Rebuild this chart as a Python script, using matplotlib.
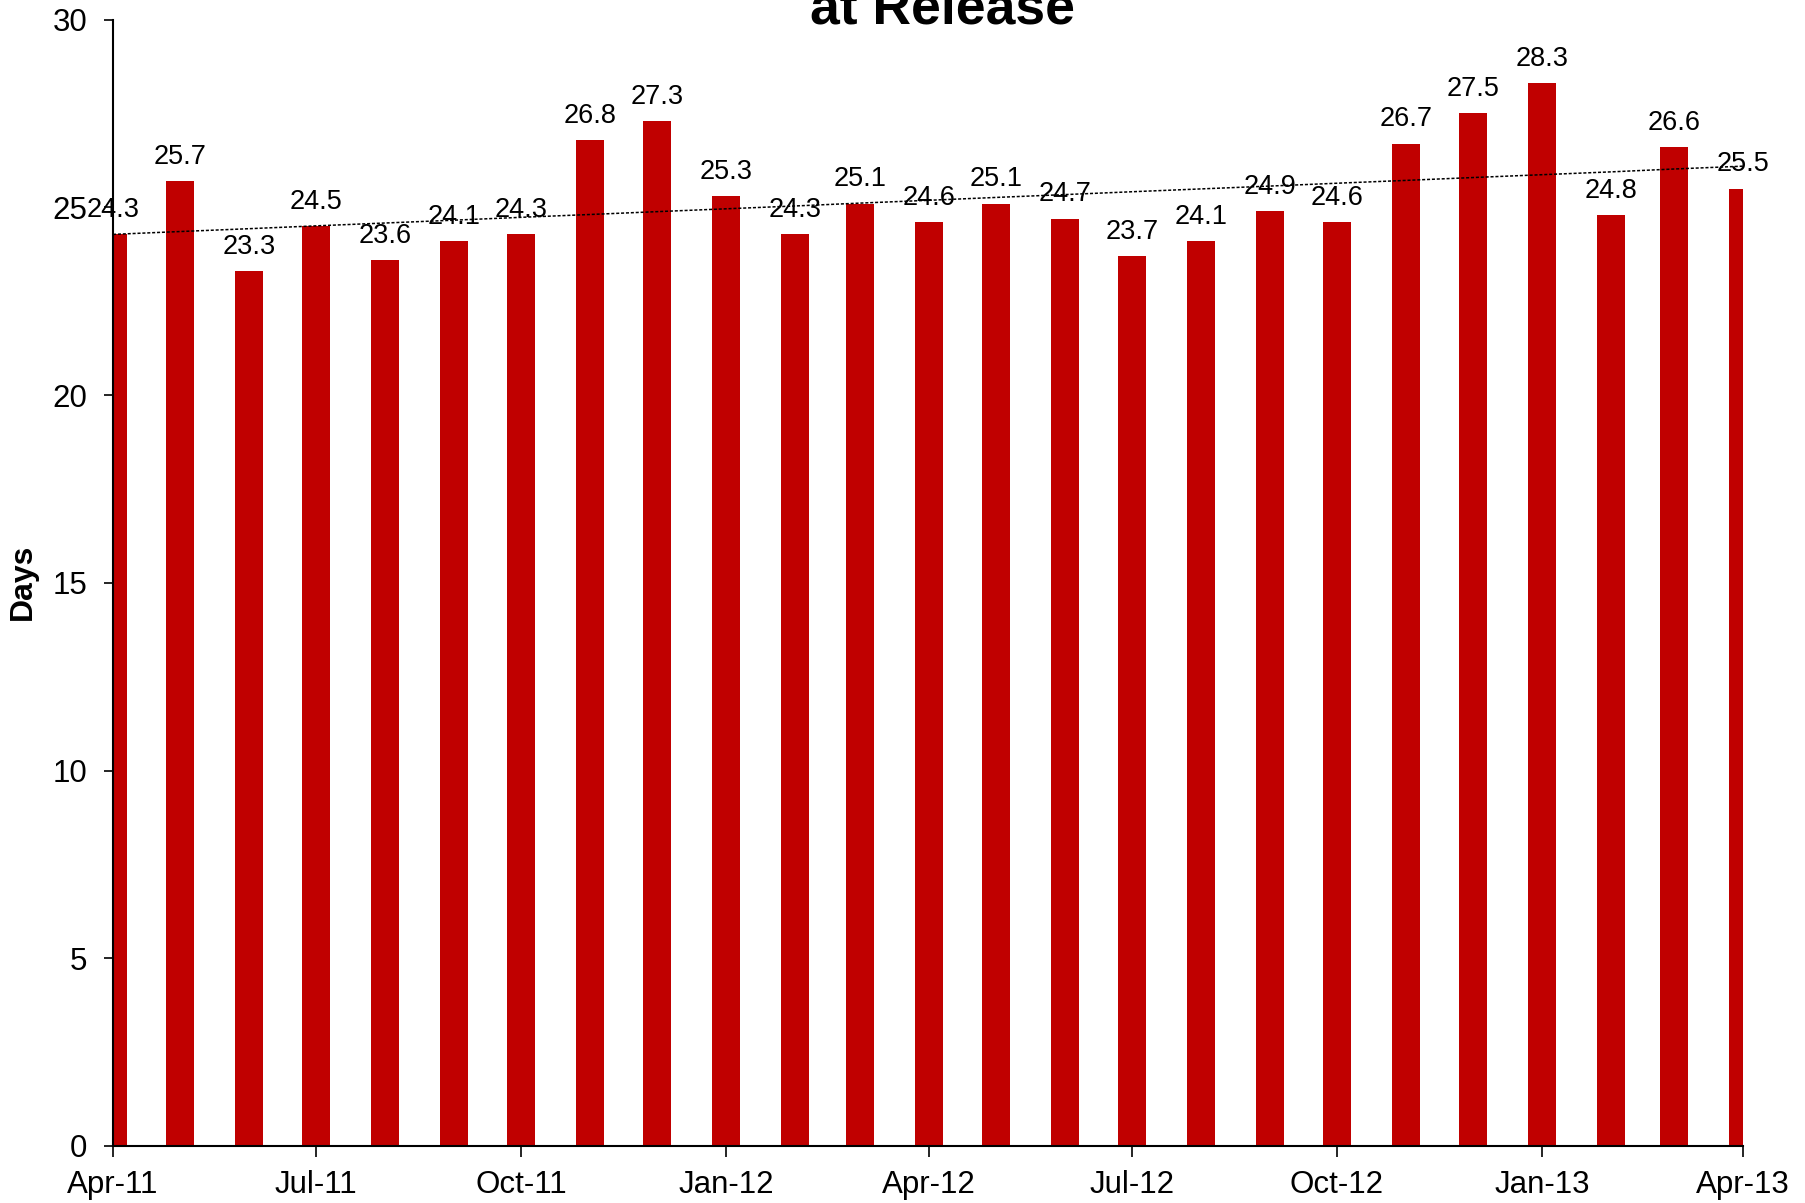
import datetime as dt

import matplotlib

matplotlib.use("Agg")
import matplotlib.dates as mdates
import matplotlib.pyplot as plt
import numpy as np

plt.rcParams["font.family"] = ["Liberation Sans", "DejaVu Sans"]

# monthly values, Apr-11 .. Apr-13
months = [dt.date(2011 + (3 + i) // 12, (3 + i) % 12 + 1, 1) for i in range(25)]
days = [24.3, 25.7, 23.3, 24.5, 23.6, 24.1, 24.3, 26.8, 27.3, 25.3, 24.3, 25.1, 24.6,
        25.1, 24.7, 23.7, 24.1, 24.9, 24.6, 26.7, 27.5, 28.3, 24.8, 26.6, 25.5]
labels = [f"{v:.1f}" for v in days]

BAR_COLOR = "#C00000"

fig = plt.figure(figsize=(18.06, 12.03), dpi=100)
ax = fig.add_axes([0.0626, 0.0474, 0.9024, 0.9363])

x = mdates.date2num(months)
ax.bar(x, days, width=12.5, color=BAR_COLOR, align="center", zorder=2)

# linear trend line (Excel style, fitted on the category index)
idx = np.arange(1, len(days) + 1)
slope, intercept = np.polyfit(idx, days, 1)
ax.plot(x, slope * idx + intercept, linestyle=(0, (2, 1.2)), color="black", lw=1.1, zorder=3)

for xi, v, lab in zip(x, days, labels):
    ax.annotate(lab, (xi, v), xytext=(0, 8), textcoords="offset points",
                ha="center", va="bottom", fontsize=19.5, annotation_clip=False, zorder=4)

ax.set_xlim(mdates.date2num(dt.date(2011, 4, 1)), mdates.date2num(dt.date(2013, 4, 1)))
ax.set_ylim(0, 30)
ax.set_yticks([0, 5, 10, 15, 20, 25, 30])
ax.xaxis.set_major_locator(mdates.MonthLocator(bymonth=[1, 4, 7, 10]))
ax.xaxis.set_major_formatter(mdates.DateFormatter("%b-%y"))

for side in ("top", "right"):
    ax.spines[side].set_visible(False)
for side in ("left", "bottom"):
    ax.spines[side].set_linewidth(1.5)
    ax.spines[side].set_color("black")

ax.tick_params(axis="y", direction="out", length=6.5, width=1.2, labelsize=22.5, pad=12)
ax.tick_params(axis="x", direction="out", length=8, width=1.2, labelsize=22.5, pad=9)

fig.text(0.0128, 0.5165, "Days", rotation=90, ha="center", va="center",
         fontsize=23, fontweight="bold")
fig.text(0.522, 1 - 23 / 1203, "at Release", ha="center", va="baseline",
         fontsize=38.5, fontweight="bold")

fig.savefig("out.png", dpi=100)
